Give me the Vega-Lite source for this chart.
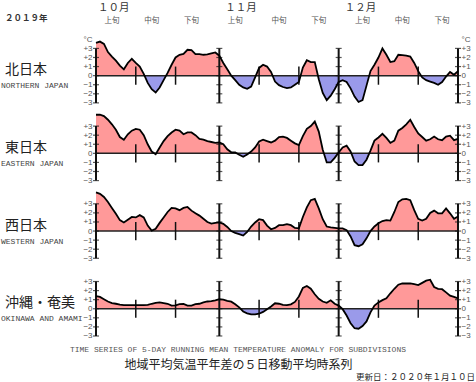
{
"$schema":"https://vega.github.io/schema/vega-lite/v6.json",
"padding":0,
"columns":2,
"spacing":{"row":8.7,"column":16},
"bounds":"flush",
"config":{"view":{"stroke":null},"axis":{"labelFont":"Liberation Sans","labelFontSize":8,"labelColor":"#555"}},
"datasets":{
"ts":[
{"date":"2019-10-01","north":3.6,"east":4.25,"west":4.25,"okinawa":1.4},
{"date":"2019-10-02","north":3.75,"east":4.25,"west":4.1,"okinawa":1.3},
{"date":"2019-10-03","north":3.5,"east":4.1,"west":3.75,"okinawa":1.05},
{"date":"2019-10-04","north":2.6,"east":3.7,"west":3.2,"okinawa":0.8},
{"date":"2019-10-05","north":2.1,"east":3.2,"west":2.55,"okinawa":0.62},
{"date":"2019-10-06","north":1.65,"east":2.6,"west":1.9,"okinawa":0.55},
{"date":"2019-10-07","north":1.1,"east":1.8,"west":1.2,"okinawa":0.45},
{"date":"2019-10-08","north":0.7,"east":1.5,"west":0.95,"okinawa":0.4},
{"date":"2019-10-09","north":1.4,"east":2.1,"west":1.25,"okinawa":0.4},
{"date":"2019-10-10","north":1.85,"east":2.5,"west":1.55,"okinawa":0.4},
{"date":"2019-10-11","north":1.4,"east":2.7,"west":1.5,"okinawa":0.4},
{"date":"2019-10-12","north":1.0,"east":2.6,"west":1.75,"okinawa":0.4},
{"date":"2019-10-13","north":0.2,"east":2.0,"west":1.5,"okinawa":0.4},
{"date":"2019-10-14","north":-0.8,"east":1.0,"west":0.6,"okinawa":0.42},
{"date":"2019-10-15","north":-1.5,"east":0.2,"west":0.05,"okinawa":0.55},
{"date":"2019-10-16","north":-1.85,"east":-0.1,"west":0.25,"okinawa":0.65},
{"date":"2019-10-17","north":-1.3,"east":0.65,"west":0.9,"okinawa":0.7},
{"date":"2019-10-18","north":-0.5,"east":1.35,"west":1.5,"okinawa":0.63},
{"date":"2019-10-19","north":0.3,"east":1.9,"west":2.1,"okinawa":0.55},
{"date":"2019-10-20","north":1.2,"east":2.3,"west":2.55,"okinawa":0.35},
{"date":"2019-10-21","north":2.0,"east":2.6,"west":2.5,"okinawa":0.38},
{"date":"2019-10-22","north":2.3,"east":2.5,"west":2.3,"okinawa":0.5},
{"date":"2019-10-23","north":2.4,"east":2.1,"west":2.55,"okinawa":0.52},
{"date":"2019-10-24","north":2.85,"east":2.3,"west":2.65,"okinawa":0.35},
{"date":"2019-10-25","north":2.8,"east":2.3,"west":2.25,"okinawa":0.35},
{"date":"2019-10-26","north":2.37,"east":2.0,"west":1.95,"okinawa":0.5},
{"date":"2019-10-27","north":2.37,"east":1.6,"west":1.7,"okinawa":0.55},
{"date":"2019-10-28","north":2.3,"east":1.52,"west":1.35,"okinawa":0.7},
{"date":"2019-10-29","north":2.35,"east":1.35,"west":1.0,"okinawa":0.8},
{"date":"2019-10-30","north":2.45,"east":1.25,"west":0.82,"okinawa":0.85},
{"date":"2019-10-31","north":2.55,"east":1.15,"west":0.9,"okinawa":0.92},
{"date":"2019-11-01","north":2.2,"east":1.2,"west":0.95,"okinawa":1.05},
{"date":"2019-11-02","north":1.4,"east":1.0,"west":0.8,"okinawa":1.0},
{"date":"2019-11-03","north":0.7,"east":0.45,"west":0.45,"okinawa":0.88},
{"date":"2019-11-04","north":0.0,"east":0.12,"west":0.0,"okinawa":0.78},
{"date":"2019-11-05","north":-0.5,"east":0.1,"west":-0.2,"okinawa":0.5},
{"date":"2019-11-06","north":-1.0,"east":-0.15,"west":-0.35,"okinawa":0.15},
{"date":"2019-11-07","north":-1.3,"east":-0.37,"west":-0.5,"okinawa":-0.3},
{"date":"2019-11-08","north":-1.45,"east":-0.12,"west":-0.1,"okinawa":-0.5},
{"date":"2019-11-09","north":-1.2,"east":0.2,"west":0.5,"okinawa":-0.63},
{"date":"2019-11-10","north":-0.2,"east":0.65,"west":0.95,"okinawa":-0.63},
{"date":"2019-11-11","north":0.85,"east":1.3,"west":1.3,"okinawa":-0.55},
{"date":"2019-11-12","north":1.2,"east":1.5,"west":1.2,"okinawa":-0.35},
{"date":"2019-11-13","north":1.0,"east":1.35,"west":0.6,"okinawa":-0.05},
{"date":"2019-11-14","north":0.4,"east":1.2,"west":0.2,"okinawa":0.25},
{"date":"2019-11-15","north":-0.65,"east":1.4,"west":0.35,"okinawa":0.6},
{"date":"2019-11-16","north":-1.05,"east":1.8,"west":0.65,"okinawa":0.55},
{"date":"2019-11-17","north":-1.25,"east":1.85,"west":0.65,"okinawa":0.42},
{"date":"2019-11-18","north":-1.37,"east":1.7,"west":0.75,"okinawa":0.4},
{"date":"2019-11-19","north":-1.3,"east":1.4,"west":0.65,"okinawa":0.48},
{"date":"2019-11-20","north":-1.0,"east":1.1,"west":0.35,"okinawa":0.75},
{"date":"2019-11-21","north":-0.7,"east":0.9,"west":0.3,"okinawa":1.35},
{"date":"2019-11-22","north":0.9,"east":1.9,"west":1.55,"okinawa":2.3},
{"date":"2019-11-23","north":1.7,"east":2.7,"west":2.6,"okinawa":2.5},
{"date":"2019-11-24","north":1.5,"east":3.0,"west":3.4,"okinawa":2.2},
{"date":"2019-11-25","north":1.5,"east":3.5,"west":3.55,"okinawa":1.6},
{"date":"2019-11-26","north":-0.4,"east":2.4,"west":2.5,"okinawa":1.1},
{"date":"2019-11-27","north":-1.9,"east":0.4,"west":1.3,"okinawa":0.8},
{"date":"2019-11-28","north":-2.7,"east":-1.0,"west":0.5,"okinawa":0.65},
{"date":"2019-11-29","north":-2.2,"east":-1.0,"west":0.4,"okinawa":0.93},
{"date":"2019-11-30","north":-1.5,"east":-0.5,"west":0.35,"okinawa":0.55},
{"date":"2019-12-01","north":-0.7,"east":0.1,"west":0.3,"okinawa":0.35},
{"date":"2019-12-02","north":-0.5,"east":0.65,"west":0.3,"okinawa":-0.05},
{"date":"2019-12-03","north":-0.7,"east":0.85,"west":0.1,"okinawa":-0.75},
{"date":"2019-12-04","north":-1.4,"east":0.2,"west":-0.6,"okinawa":-1.6},
{"date":"2019-12-05","north":-2.3,"east":-0.9,"west":-1.55,"okinawa":-2.15},
{"date":"2019-12-06","north":-2.9,"east":-1.3,"west":-1.67,"okinawa":-2.2},
{"date":"2019-12-07","north":-2.7,"east":-1.3,"west":-1.45,"okinawa":-1.9},
{"date":"2019-12-08","north":-1.1,"east":-0.7,"west":-0.8,"okinawa":-1.4},
{"date":"2019-12-09","north":0.5,"east":0.3,"west":0.0,"okinawa":-0.4},
{"date":"2019-12-10","north":1.2,"east":1.4,"west":0.5,"okinawa":0.35},
{"date":"2019-12-11","north":2.0,"east":1.75,"west":0.85,"okinawa":0.7},
{"date":"2019-12-12","north":3.0,"east":2.15,"west":1.1,"okinawa":0.95},
{"date":"2019-12-13","north":2.3,"east":1.7,"west":1.2,"okinawa":1.15},
{"date":"2019-12-14","north":1.5,"east":1.15,"west":1.15,"okinawa":1.7},
{"date":"2019-12-15","north":1.6,"east":1.4,"west":2.1,"okinawa":2.2},
{"date":"2019-12-16","north":2.3,"east":2.5,"west":3.2,"okinawa":2.65},
{"date":"2019-12-17","north":2.25,"east":2.8,"west":3.5,"okinawa":2.8},
{"date":"2019-12-18","north":2.2,"east":3.2,"west":3.55,"okinawa":2.78},
{"date":"2019-12-19","north":2.1,"east":3.7,"west":3.4,"okinawa":2.8},
{"date":"2019-12-20","north":1.4,"east":2.9,"west":2.3,"okinawa":2.7},
{"date":"2019-12-21","north":0.5,"east":2.2,"west":1.35,"okinawa":2.6},
{"date":"2019-12-22","north":-0.2,"east":1.8,"west":1.15,"okinawa":2.85},
{"date":"2019-12-23","north":-0.5,"east":1.4,"west":1.35,"okinawa":3.1},
{"date":"2019-12-24","north":-0.65,"east":1.55,"west":2.0,"okinawa":3.2},
{"date":"2019-12-25","north":-0.8,"east":1.85,"west":2.25,"okinawa":2.4},
{"date":"2019-12-26","north":-1.0,"east":1.55,"west":1.95,"okinawa":2.2},
{"date":"2019-12-27","north":-0.7,"east":1.45,"west":1.95,"okinawa":2.15},
{"date":"2019-12-28","north":-0.1,"east":1.85,"west":2.5,"okinawa":1.8},
{"date":"2019-12-29","north":0.4,"east":1.95,"west":1.95,"okinawa":1.45},
{"date":"2019-12-30","north":0.1,"east":1.45,"west":1.35,"okinawa":1.3},
{"date":"2019-12-31","north":0.5,"east":1.6,"west":1.6,"okinawa":1.15}
],
"frame":[
{"date":"2019-10-01","lv":[-3,-2,-1,0,1,2,3]},
{"date":"2019-11-01","lv":[-3,-2,-1,0,1,2,3]},
{"date":"2019-12-01","lv":[-3,-2,-1,0,1,2,3]},
{"date":"2019-12-31","lv":[-3,-2,-1,0,1,2,3]}
],
"decades":[
{"date":"2019-10-11"},{"date":"2019-10-21"},{"date":"2019-11-11"},{"date":"2019-11-21"},{"date":"2019-12-11"},{"date":"2019-12-21"}
],
"months":[
{"date":"2019-10-01","label":"１０月"},{"date":"2019-11-02","label":"１１月"},{"date":"2019-12-02","label":"１２月"}
],
"dekads":[
{"date":"2019-10-05","label":"上旬"},{"date":"2019-10-15","label":"中旬"},{"date":"2019-10-25","label":"下旬"},
{"date":"2019-11-05","label":"上旬"},{"date":"2019-11-16","label":"中旬"},{"date":"2019-11-26","label":"下旬"},
{"date":"2019-12-07","label":"上旬"},{"date":"2019-12-17","label":"中旬"},{"date":"2019-12-27","label":"下旬"}
]
},
"concat":[
{"width":80,"height":26.3,"data":{"values":[{"t":"２０１９年"}]},
 "mark":{"type":"text","align":"left","baseline":"middle","dx":-35,"dy":4.5,"fontSize":8.5,"fontWeight":"bold","font":"Noto Sans CJK JP","color":"#333"},
 "encoding":{"text":{"field":"t"}}},
{"width":362,"height":26.3,
 "layer":[
  {"data":{"name":"months"},"mark":{"type":"text","align":"left","baseline":"middle","dx":2,"dy":-5.35,"fontSize":10.5,"font":"Noto Sans CJK JP","color":"#333"},
   "encoding":{"x":{"field":"date","type":"temporal","scale":{"type":"utc","domain":[{"year":2019,"month":10,"date":1,"utc":true},{"year":2019,"month":12,"date":31,"utc":true}]},"axis":null},"text":{"field":"label"}}},
  {"data":{"name":"dekads"},"mark":{"type":"text","align":"center","baseline":"middle","dy":8.15,"fontSize":7.5,"font":"Noto Sans CJK JP","color":"#555"},
   "encoding":{"x":{"field":"date","type":"temporal","scale":{"type":"utc","domain":[{"year":2019,"month":10,"date":1,"utc":true},{"year":2019,"month":12,"date":31,"utc":true}]},"axis":null},"text":{"field":"label"}}}
 ]},

{"width":80,"height":69,"data":{"values":[{"ja":"北日本","en":"NORTHERN JAPAN"}]},
 "layer":[
  {"mark":{"type":"text","align":"left","baseline":"middle","dx":-35,"dy":-5.5,"fontSize":14,"font":"Noto Sans CJK JP","color":"#222"},"encoding":{"y":{"datum":0,"type":"quantitative","scale":{"domain":[-3.2,4.4],"nice":false,"zero":false},"axis":null},"text":{"field":"ja"}}},
  {"mark":{"type":"text","align":"left","baseline":"middle","dx":-39,"dy":10.5,"fontSize":8,"font":"Liberation Mono","color":"#444"},"encoding":{"y":{"datum":0,"type":"quantitative","scale":{"domain":[-3.2,4.4],"nice":false,"zero":false},"axis":null},"text":{"field":"en"}}}
 ]},
{"width":362,"height":69,"resolve":{"axis":{"y":"independent"}},
 "layer":[
  {"data":{"name":"ts"},"mark":{"type":"area","fill":{"gradient":"linear","x1":0,"y1":0,"x2":0,"y2":1,"stops":[{"offset":0,"color":"#ff9999"},{"offset":0.5639,"color":"#ff9999"},{"offset":0.5639,"color":"#9a9aea"},{"offset":1,"color":"#9a9aea"}]}},
   "encoding":{"x":{"field":"date","type":"temporal","scale":{"type":"utc","domain":[{"year":2019,"month":10,"date":1,"utc":true},{"year":2019,"month":12,"date":31,"utc":true}]},"axis":null},
    "y":{"field":"north","type":"quantitative","scale":{"domain":[-3.2,4.4],"nice":false,"zero":false},"axis":{"orient":"left","values":[-3,-2,-1,0,1,2,3,4],"labelExpr":"datum.value == 4 ? '°C' : (datum.value > 0 ? '+' + datum.label : datum.label)","domain":false,"ticks":false,"grid":false,"title":null,"labelPadding":4,"labelOverlap":false,"labelBaseline":"middle"}},
    "y2":{"datum":0}}},
  {"data":{"values":[{}]},"mark":{"type":"rule","color":"#222","strokeWidth":1.5},"encoding":{"y":{"datum":0,"type":"quantitative","scale":{"domain":[-3.2,4.4],"nice":false,"zero":false},"axis":null}}},
  {"data":{"name":"frame"},"mark":{"type":"rule","color":"#111","strokeWidth":2},
   "encoding":{"x":{"field":"date","type":"temporal","scale":{"type":"utc","domain":[{"year":2019,"month":10,"date":1,"utc":true},{"year":2019,"month":12,"date":31,"utc":true}]},"axis":null},
    "y":{"datum":-3,"type":"quantitative","scale":{"domain":[-3.2,4.4],"nice":false,"zero":false},"axis":null},"y2":{"datum":3}}},
  {"data":{"name":"frame"},"transform":[{"flatten":["lv"]}],"mark":{"type":"tick","orient":"horizontal","color":"#111","size":6,"thickness":1.2},
   "encoding":{"x":{"field":"date","type":"temporal","scale":{"type":"utc","domain":[{"year":2019,"month":10,"date":1,"utc":true},{"year":2019,"month":12,"date":31,"utc":true}]},"axis":null},
    "y":{"field":"lv","type":"quantitative","scale":{"domain":[-3.2,4.4],"nice":false,"zero":false},"axis":null}}},
  {"data":{"name":"decades"},"mark":{"type":"rule","color":"#111","strokeWidth":1.5},
   "encoding":{"x":{"field":"date","type":"temporal","scale":{"type":"utc","domain":[{"year":2019,"month":10,"date":1,"utc":true},{"year":2019,"month":12,"date":31,"utc":true}]},"axis":null},
    "y":{"datum":-1,"type":"quantitative","scale":{"domain":[-3.2,4.4],"nice":false,"zero":false},"axis":null},"y2":{"datum":1}}},
  {"data":{"name":"ts"},"mark":{"type":"line","color":"#000","strokeWidth":1.8},
   "encoding":{"x":{"field":"date","type":"temporal","scale":{"type":"utc","domain":[{"year":2019,"month":10,"date":1,"utc":true},{"year":2019,"month":12,"date":31,"utc":true}]},"axis":null},
    "y":{"field":"north","type":"quantitative","scale":{"domain":[-3.2,4.4],"nice":false,"zero":false},"axis":{"orient":"right","values":[-3,-2,-1,0,1,2,3,4],"labelExpr":"datum.value == 4 ? '°C' : (datum.value > 0 ? '+' + datum.label : datum.label)","domain":false,"ticks":false,"grid":false,"title":null,"labelPadding":3,"labelOverlap":false,"labelBaseline":"middle"}}}}
 ]},

{"width":80,"height":69,"data":{"values":[{"ja":"東日本","en":"EASTERN JAPAN"}]},
 "layer":[
  {"mark":{"type":"text","align":"left","baseline":"middle","dx":-35,"dy":-5.5,"fontSize":14,"font":"Noto Sans CJK JP","color":"#222"},"encoding":{"y":{"datum":0,"type":"quantitative","scale":{"domain":[-3.2,4.4],"nice":false,"zero":false},"axis":null},"text":{"field":"ja"}}},
  {"mark":{"type":"text","align":"left","baseline":"middle","dx":-39,"dy":10.5,"fontSize":8,"font":"Liberation Mono","color":"#444"},"encoding":{"y":{"datum":0,"type":"quantitative","scale":{"domain":[-3.2,4.4],"nice":false,"zero":false},"axis":null},"text":{"field":"en"}}}
 ]},
{"width":362,"height":69,"resolve":{"axis":{"y":"independent"}},
 "layer":[
  {"data":{"name":"ts"},"mark":{"type":"area","fill":{"gradient":"linear","x1":0,"y1":0,"x2":0,"y2":1,"stops":[{"offset":0,"color":"#ff9999"},{"offset":0.7658,"color":"#ff9999"},{"offset":0.7658,"color":"#9a9aea"},{"offset":1,"color":"#9a9aea"}]}},
   "encoding":{"x":{"field":"date","type":"temporal","scale":{"type":"utc","domain":[{"year":2019,"month":10,"date":1,"utc":true},{"year":2019,"month":12,"date":31,"utc":true}]},"axis":null},
    "y":{"field":"east","type":"quantitative","scale":{"domain":[-3.2,4.4],"nice":false,"zero":false},"axis":{"orient":"left","values":[-3,-2,-1,0,1,2,3],"labelExpr":"datum.value > 0 ? '+' + datum.label : datum.label","domain":false,"ticks":false,"grid":false,"title":null,"labelPadding":4,"labelOverlap":false,"labelBaseline":"middle"}},
    "y2":{"datum":0}}},
  {"data":{"values":[{}]},"mark":{"type":"rule","color":"#222","strokeWidth":1.5},"encoding":{"y":{"datum":0,"type":"quantitative","scale":{"domain":[-3.2,4.4],"nice":false,"zero":false},"axis":null}}},
  {"data":{"name":"frame"},"mark":{"type":"rule","color":"#111","strokeWidth":2},
   "encoding":{"x":{"field":"date","type":"temporal","scale":{"type":"utc","domain":[{"year":2019,"month":10,"date":1,"utc":true},{"year":2019,"month":12,"date":31,"utc":true}]},"axis":null},
    "y":{"datum":-3,"type":"quantitative","scale":{"domain":[-3.2,4.4],"nice":false,"zero":false},"axis":null},"y2":{"datum":3}}},
  {"data":{"name":"frame"},"transform":[{"flatten":["lv"]}],"mark":{"type":"tick","orient":"horizontal","color":"#111","size":6,"thickness":1.2},
   "encoding":{"x":{"field":"date","type":"temporal","scale":{"type":"utc","domain":[{"year":2019,"month":10,"date":1,"utc":true},{"year":2019,"month":12,"date":31,"utc":true}]},"axis":null},
    "y":{"field":"lv","type":"quantitative","scale":{"domain":[-3.2,4.4],"nice":false,"zero":false},"axis":null}}},
  {"data":{"name":"decades"},"mark":{"type":"rule","color":"#111","strokeWidth":1.5},
   "encoding":{"x":{"field":"date","type":"temporal","scale":{"type":"utc","domain":[{"year":2019,"month":10,"date":1,"utc":true},{"year":2019,"month":12,"date":31,"utc":true}]},"axis":null},
    "y":{"datum":-1,"type":"quantitative","scale":{"domain":[-3.2,4.4],"nice":false,"zero":false},"axis":null},"y2":{"datum":1}}},
  {"data":{"name":"ts"},"mark":{"type":"line","color":"#000","strokeWidth":1.8},
   "encoding":{"x":{"field":"date","type":"temporal","scale":{"type":"utc","domain":[{"year":2019,"month":10,"date":1,"utc":true},{"year":2019,"month":12,"date":31,"utc":true}]},"axis":null},
    "y":{"field":"east","type":"quantitative","scale":{"domain":[-3.2,4.4],"nice":false,"zero":false},"axis":{"orient":"right","values":[-3,-2,-1,0,1,2,3],"labelExpr":"datum.value > 0 ? '+' + datum.label : datum.label","domain":false,"ticks":false,"grid":false,"title":null,"labelPadding":3,"labelOverlap":false,"labelBaseline":"middle"}}}}
 ]},

{"width":80,"height":69,"data":{"values":[{"ja":"西日本","en":"WESTERN JAPAN"}]},
 "layer":[
  {"mark":{"type":"text","align":"left","baseline":"middle","dx":-35,"dy":-5.5,"fontSize":14,"font":"Noto Sans CJK JP","color":"#222"},"encoding":{"y":{"datum":0,"type":"quantitative","scale":{"domain":[-3.2,4.4],"nice":false,"zero":false},"axis":null},"text":{"field":"ja"}}},
  {"mark":{"type":"text","align":"left","baseline":"middle","dx":-39,"dy":10.5,"fontSize":8,"font":"Liberation Mono","color":"#444"},"encoding":{"y":{"datum":0,"type":"quantitative","scale":{"domain":[-3.2,4.4],"nice":false,"zero":false},"axis":null},"text":{"field":"en"}}}
 ]},
{"width":362,"height":69,"resolve":{"axis":{"y":"independent"}},
 "layer":[
  {"data":{"name":"ts"},"mark":{"type":"area","fill":{"gradient":"linear","x1":0,"y1":0,"x2":0,"y2":1,"stops":[{"offset":0,"color":"#ff9999"},{"offset":0.7179,"color":"#ff9999"},{"offset":0.7179,"color":"#9a9aea"},{"offset":1,"color":"#9a9aea"}]}},
   "encoding":{"x":{"field":"date","type":"temporal","scale":{"type":"utc","domain":[{"year":2019,"month":10,"date":1,"utc":true},{"year":2019,"month":12,"date":31,"utc":true}]},"axis":null},
    "y":{"field":"west","type":"quantitative","scale":{"domain":[-3.2,4.4],"nice":false,"zero":false},"axis":{"orient":"left","values":[-3,-2,-1,0,1,2,3],"labelExpr":"datum.value > 0 ? '+' + datum.label : datum.label","domain":false,"ticks":false,"grid":false,"title":null,"labelPadding":4,"labelOverlap":false,"labelBaseline":"middle"}},
    "y2":{"datum":0}}},
  {"data":{"values":[{}]},"mark":{"type":"rule","color":"#222","strokeWidth":1.5},"encoding":{"y":{"datum":0,"type":"quantitative","scale":{"domain":[-3.2,4.4],"nice":false,"zero":false},"axis":null}}},
  {"data":{"name":"frame"},"mark":{"type":"rule","color":"#111","strokeWidth":2},
   "encoding":{"x":{"field":"date","type":"temporal","scale":{"type":"utc","domain":[{"year":2019,"month":10,"date":1,"utc":true},{"year":2019,"month":12,"date":31,"utc":true}]},"axis":null},
    "y":{"datum":-3,"type":"quantitative","scale":{"domain":[-3.2,4.4],"nice":false,"zero":false},"axis":null},"y2":{"datum":3}}},
  {"data":{"name":"frame"},"transform":[{"flatten":["lv"]}],"mark":{"type":"tick","orient":"horizontal","color":"#111","size":6,"thickness":1.2},
   "encoding":{"x":{"field":"date","type":"temporal","scale":{"type":"utc","domain":[{"year":2019,"month":10,"date":1,"utc":true},{"year":2019,"month":12,"date":31,"utc":true}]},"axis":null},
    "y":{"field":"lv","type":"quantitative","scale":{"domain":[-3.2,4.4],"nice":false,"zero":false},"axis":null}}},
  {"data":{"name":"decades"},"mark":{"type":"rule","color":"#111","strokeWidth":1.5},
   "encoding":{"x":{"field":"date","type":"temporal","scale":{"type":"utc","domain":[{"year":2019,"month":10,"date":1,"utc":true},{"year":2019,"month":12,"date":31,"utc":true}]},"axis":null},
    "y":{"datum":-1,"type":"quantitative","scale":{"domain":[-3.2,4.4],"nice":false,"zero":false},"axis":null},"y2":{"datum":1}}},
  {"data":{"name":"ts"},"mark":{"type":"line","color":"#000","strokeWidth":1.8},
   "encoding":{"x":{"field":"date","type":"temporal","scale":{"type":"utc","domain":[{"year":2019,"month":10,"date":1,"utc":true},{"year":2019,"month":12,"date":31,"utc":true}]},"axis":null},
    "y":{"field":"west","type":"quantitative","scale":{"domain":[-3.2,4.4],"nice":false,"zero":false},"axis":{"orient":"right","values":[-3,-2,-1,0,1,2,3],"labelExpr":"datum.value > 0 ? '+' + datum.label : datum.label","domain":false,"ticks":false,"grid":false,"title":null,"labelPadding":3,"labelOverlap":false,"labelBaseline":"middle"}}}}
 ]},

{"width":80,"height":69,"data":{"values":[{"ja":"沖縄・奄美","en":"OKINAWA AND AMAMI"}]},
 "layer":[
  {"mark":{"type":"text","align":"left","baseline":"middle","dx":-35,"dy":-6,"fontSize":14,"font":"Noto Sans CJK JP","color":"#222"},"encoding":{"y":{"datum":0,"type":"quantitative","scale":{"domain":[-3.2,4.4],"nice":false,"zero":false},"axis":null},"text":{"field":"ja"}}},
  {"mark":{"type":"text","align":"left","baseline":"middle","dx":-39,"dy":10.5,"fontSize":8,"font":"Liberation Mono","color":"#444"},"encoding":{"y":{"datum":0,"type":"quantitative","scale":{"domain":[-3.2,4.4],"nice":false,"zero":false},"axis":null},"text":{"field":"en"}}}
 ]},
{"width":362,"height":69,"resolve":{"axis":{"y":"independent"}},
 "layer":[
  {"data":{"name":"ts"},"mark":{"type":"area","fill":{"gradient":"linear","x1":0,"y1":0,"x2":0,"y2":1,"stops":[{"offset":0,"color":"#ff9999"},{"offset":0.5926,"color":"#ff9999"},{"offset":0.5926,"color":"#9a9aea"},{"offset":1,"color":"#9a9aea"}]}},
   "encoding":{"x":{"field":"date","type":"temporal","scale":{"type":"utc","domain":[{"year":2019,"month":10,"date":1,"utc":true},{"year":2019,"month":12,"date":31,"utc":true}]},"axis":null},
    "y":{"field":"okinawa","type":"quantitative","scale":{"domain":[-3.2,4.4],"nice":false,"zero":false},"axis":{"orient":"left","values":[-3,-2,-1,0,1,2,3],"labelExpr":"datum.value > 0 ? '+' + datum.label : datum.label","domain":false,"ticks":false,"grid":false,"title":null,"labelPadding":4,"labelOverlap":false,"labelBaseline":"middle"}},
    "y2":{"datum":0}}},
  {"data":{"values":[{}]},"mark":{"type":"rule","color":"#222","strokeWidth":1.5},"encoding":{"y":{"datum":0,"type":"quantitative","scale":{"domain":[-3.2,4.4],"nice":false,"zero":false},"axis":null}}},
  {"data":{"name":"frame"},"mark":{"type":"rule","color":"#111","strokeWidth":2},
   "encoding":{"x":{"field":"date","type":"temporal","scale":{"type":"utc","domain":[{"year":2019,"month":10,"date":1,"utc":true},{"year":2019,"month":12,"date":31,"utc":true}]},"axis":null},
    "y":{"datum":-3,"type":"quantitative","scale":{"domain":[-3.2,4.4],"nice":false,"zero":false},"axis":null},"y2":{"datum":3}}},
  {"data":{"name":"frame"},"transform":[{"flatten":["lv"]}],"mark":{"type":"tick","orient":"horizontal","color":"#111","size":6,"thickness":1.2},
   "encoding":{"x":{"field":"date","type":"temporal","scale":{"type":"utc","domain":[{"year":2019,"month":10,"date":1,"utc":true},{"year":2019,"month":12,"date":31,"utc":true}]},"axis":null},
    "y":{"field":"lv","type":"quantitative","scale":{"domain":[-3.2,4.4],"nice":false,"zero":false},"axis":null}}},
  {"data":{"name":"decades"},"mark":{"type":"rule","color":"#111","strokeWidth":1.5},
   "encoding":{"x":{"field":"date","type":"temporal","scale":{"type":"utc","domain":[{"year":2019,"month":10,"date":1,"utc":true},{"year":2019,"month":12,"date":31,"utc":true}]},"axis":null},
    "y":{"datum":-1,"type":"quantitative","scale":{"domain":[-3.2,4.4],"nice":false,"zero":false},"axis":null},"y2":{"datum":1}}},
  {"data":{"name":"ts"},"mark":{"type":"line","color":"#000","strokeWidth":1.8},
   "encoding":{"x":{"field":"date","type":"temporal","scale":{"type":"utc","domain":[{"year":2019,"month":10,"date":1,"utc":true},{"year":2019,"month":12,"date":31,"utc":true}]},"axis":null},
    "y":{"field":"okinawa","type":"quantitative","scale":{"domain":[-3.2,4.4],"nice":false,"zero":false},"axis":{"orient":"right","values":[-3,-2,-1,0,1,2,3],"labelExpr":"datum.value > 0 ? '+' + datum.label : datum.label","domain":false,"ticks":false,"grid":false,"title":null,"labelPadding":3,"labelOverlap":false,"labelBaseline":"middle"}}}}
 ]},

{"width":80,"height":29.5,"data":{"values":[{"en":"TIME SERIES OF 5-DAY RUNNING MEAN TEMPERATURE ANOMALY FOR SUBDIVISIONS","ja":"地域平均気温平年差の５日移動平均時系列","upd":"更新日：２０２０年１月１０日"}]},
 "layer":[
  {"mark":{"type":"text","align":"center","baseline":"middle","dx":198,"dy":-11.5,"fontSize":8,"font":"Liberation Mono","color":"#555"},"encoding":{"text":{"field":"en"}}},
  {"mark":{"type":"text","align":"center","baseline":"middle","dx":198.5,"dy":3.5,"fontSize":12,"font":"Noto Sans CJK JP","color":"#222"},"encoding":{"text":{"field":"ja"}}},
  {"mark":{"type":"text","align":"right","baseline":"middle","dx":435,"dy":15.8,"fontSize":8.5,"font":"Noto Sans CJK JP","color":"#222"},"encoding":{"text":{"field":"upd"}}}
 ]}
]
}
